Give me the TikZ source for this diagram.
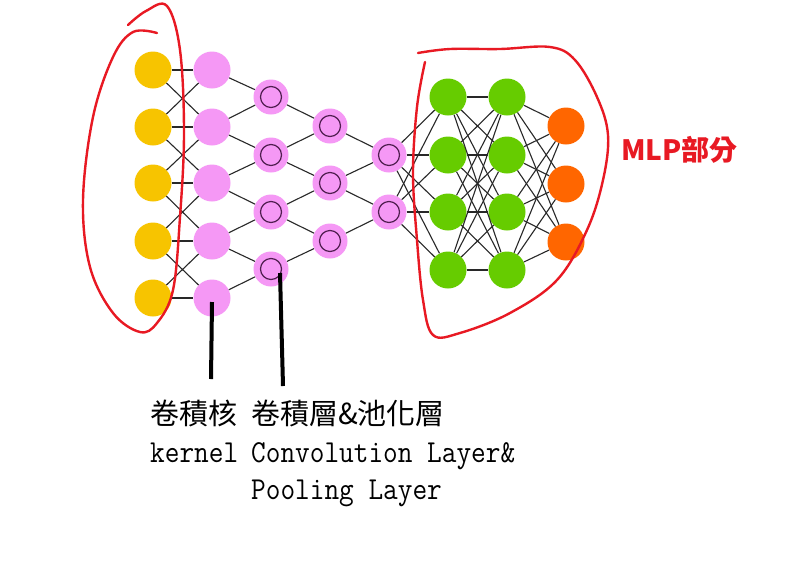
\documentclass[tikz,border=0pt]{standalone}
\usepackage{fontspec}
\newfontfamily\cjkfont{Noto Sans CJK TC}
\newfontfamily\captionmono[FakeStretch=0.89]{Latin Modern Mono}
\usepackage{tikz}
\usetikzlibrary{positioning}
\definecolor{inyellow}{RGB}{247,196,0}
\definecolor{convpink}{RGB}{245,152,245}
\definecolor{ringpurple}{RGB}{80,30,80}
\definecolor{mlpgreen}{RGB}{102,204,0}
\definecolor{outorange}{RGB}{255,102,0}
\definecolor{markred}{RGB}{232,25,35}
\definecolor{edgegray}{RGB}{40,40,40}

\begin{document}
\begin{tikzpicture}[x=1pt, y=-1pt,
    unit/.style={circle, minimum size=37pt, inner sep=0pt},
    input/.style={unit, fill=inyellow},
    kern/.style={unit, fill=convpink},
    conv/.style={unit, fill=convpink, minimum size=35pt,
                 path picture={\draw[ringpurple, line width=1.2pt]
                   (path picture bounding box.center) circle (10.5pt);}},
    hidden/.style={unit, fill=mlpgreen},
    outunit/.style={unit, fill=outorange},
    link/.style={draw=edgegray, line width=1.1pt},
    redmark/.style={draw=markred, line width=2.4pt, line cap=round, line join=round},
    pointer/.style={draw=black, line width=4pt},
    tagzh/.style={anchor=base west, inner sep=0pt, font=\cjkfont\fontsize{29}{34}\selectfont},
    tagen/.style={anchor=base west, inner sep=0pt, font=\captionmono\fontsize{32}{37}\selectfont},
]
    \useasboundingbox[fill=white] (0,0) rectangle (791,560);

    % input column and kernel column
    \foreach \i/\y in {1/70,2/127,3/183,4/241,5/298} {
        \node[input] (in\i) at (153,\y) {};
        \node[kern] (k\i) at (212,\y) {};
    }

    % convolution / pooling columns
    \foreach \i/\y in {1/97,2/155,3/212,4/269}
        \node[conv] (ca\i) at (271,\y) {};
    \foreach \i/\y in {1/126,2/183,3/241}
        \node[conv] (cb\i) at (330,\y) {};
    \foreach \i/\y in {1/155,2/212}
        \node[conv] (cc\i) at (389,\y) {};

    % MLP part
    \foreach \i/\y in {1/97,2/155,3/212,4/270} {
        \node[hidden] (ha\i) at (448,\y) {};
        \node[hidden] (hb\i) at (507,\y) {};
    }
    \foreach \i/\y in {1/126,2/184,3/242}
        \node[outunit] (out\i) at (566,\y) {};

    % connections
    \foreach \a/\b in {1/1,1/2,2/1,2/2,2/3,3/2,3/3,3/4,4/3,4/4,4/5,5/4,5/5}
        \draw[link] (in\a) -- (k\b);
    \foreach \j [evaluate=\j as \n using int(\j+1)] in {1,...,4}
        \draw[link] (k\j) -- (ca\j) (k\n) -- (ca\j);
    \foreach \j [evaluate=\j as \n using int(\j+1)] in {1,...,3}
        \draw[link] (ca\j) -- (cb\j) (ca\n) -- (cb\j);
    \foreach \j [evaluate=\j as \n using int(\j+1)] in {1,2}
        \draw[link] (cb\j) -- (cc\j) (cb\n) -- (cc\j);
    \foreach \a in {1,2}
        \foreach \b in {1,...,4}
            \draw[link] (cc\a) -- (ha\b);
    \foreach \a in {1,...,4}
        \foreach \b in {1,...,4}
            \draw[link] (ha\a) -- (hb\b);
    \foreach \a in {1,...,4}
        \foreach \b in {1,2,3}
            \draw[link] (hb\a) -- (out\b);

    % hand-drawn red loops
    \draw[redmark] plot[smooth, tension=0.6] coordinates {
        (128,25) (146,11) (167,6) (180,50) (184,133) (180,217) (173,290)
        (157,323) (140,332) (113,313) (90,267) (83,200) (93,117)
        (113,57) (133,32) (157,33)};
    \draw[redmark] plot[smooth, tension=0.6] coordinates {
        (418,53) (450,49) (500,49) (550,47) (575,60) (597,97) (608,135)
        (603,180) (587,230) (557,280) (510,313) (460,333) (433,335)
        (423,300) (417,240) (413,173) (417,107) (425,62)};
    \node[anchor=west, inner sep=0pt, text=markred,
          font=\cjkfont\bfseries\fontsize{28}{30}\selectfont] (mlp) at (621,150) {MLP部分};

    % pointers and captions
    \coordinate (kerneltip) at (211,379);
    \coordinate (convtip) at (283,386);
    \draw[pointer] ([yshift=-4pt]k5.center) -- (kerneltip);
    \draw[pointer] ([xshift=9pt, yshift=-4pt]ca4.center) -- (convtip);

    \node[tagzh] (kernelzh) at (150,424) {卷積核};
    \node[tagen] (kernelen) at (150,462) {kernel};
    \node[tagzh] (convzh) at (251,424) {卷積層\&池化層};
    \node[tagen] (conven) at (251,462) {Convolution Layer\&};
    \node[tagen] (poolen) at (251,499) {Pooling Layer};
\end{tikzpicture}
\end{document}
